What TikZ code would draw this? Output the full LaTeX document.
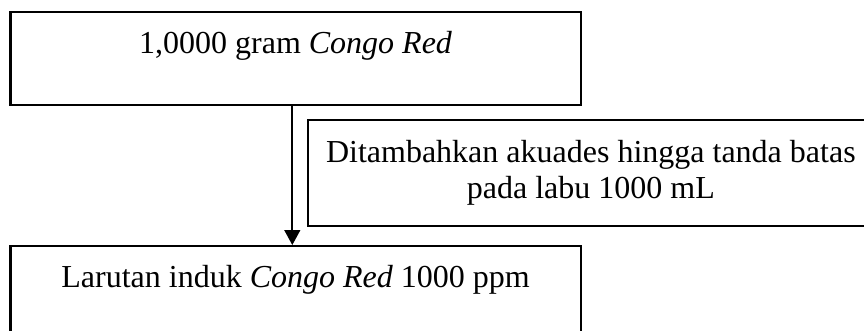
\documentclass[tikz,border=0pt]{standalone}
\usepackage{fontspec}
\setmainfont{Liberation Serif}
\usetikzlibrary{arrows.meta,positioning}

\tikzset{
  kotak/.style={draw,line width=0.8pt,inner sep=0pt,minimum width=213.8pt,
    text height=15.4pt,text depth=19.5pt},
  keterangan/.style={draw,line width=0.8pt,inner sep=0pt,align=center,
    minimum width=212.3pt,minimum height=39.75pt,anchor=north west},
  alur/.style={-{Triangle[width=5.9pt,length=5.6pt]},line width=0.75pt}
}

\begin{document}
\begin{tikzpicture}[x=0.375pt,y=-0.375pt,font=\fontsize{12}{13.5}\selectfont]
  \useasboundingbox (0,0) rectangle (864,330);
  \clip (0,0) rectangle (864,330);
  \node[kotak](atas) at (295.6,58.5) {1,0000 gram \textit{Congo Red}};
  \node[kotak](bawah)[below=52.1pt of atas] {Larutan induk \textit{Congo Red} 1000 ppm};
  \node[keterangan](proses) at (306.7,119) {Ditambahkan akuades hingga tanda batas\\pada labu 1000 mL};
  \coordinate (panah) at (292.3,0);
  \draw[alur](atas.south -| panah) -- (bawah.north -| panah);
\end{tikzpicture}
\end{document}
